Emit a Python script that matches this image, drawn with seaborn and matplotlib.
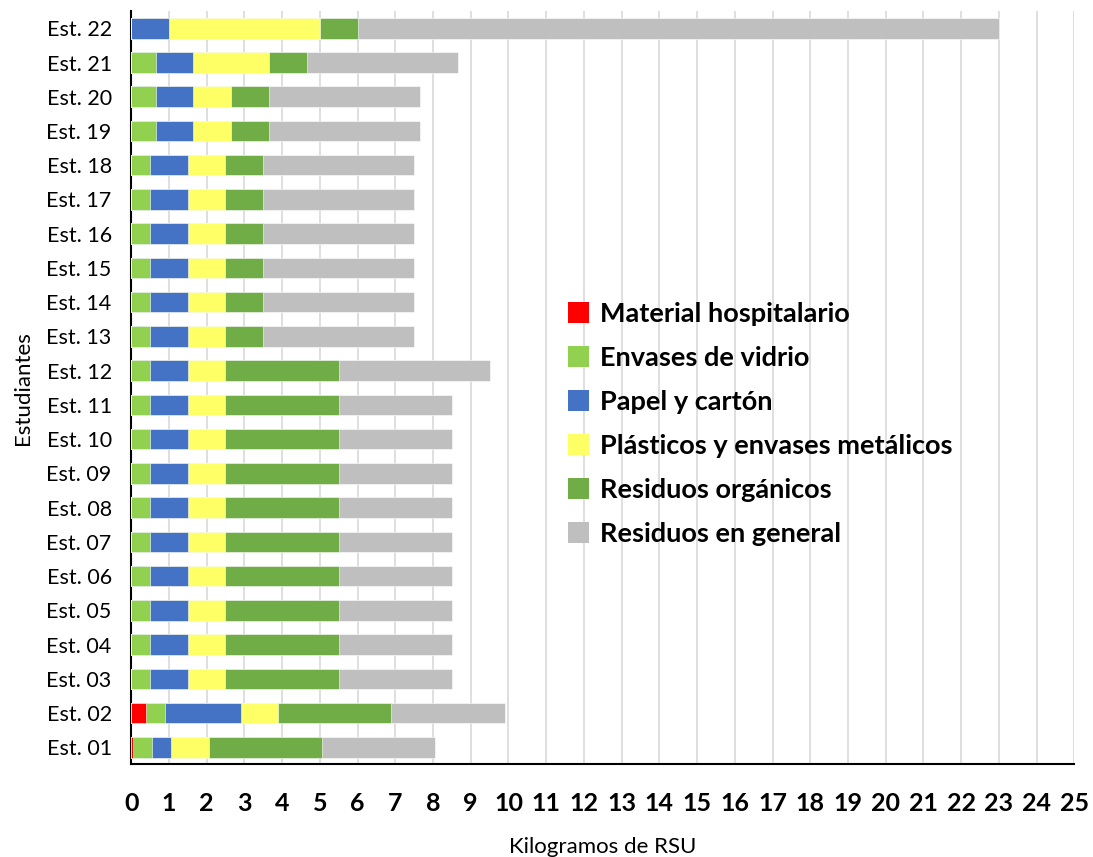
import numpy as np
import pandas as pd
import matplotlib
matplotlib.use("Agg")
import matplotlib.pyplot as plt
import seaborn as sns
from matplotlib.patches import Patch

# -------------------------------
# Data (kg per student, per category)
# -------------------------------
students = ["Est. %02d" % i for i in range(1, 23)]

hospitalario = [0.05, 0.4] + [0] * 20
vidrio = [0.5, 0.5] + [0.5] * 10 + [0.5] * 6 + [0.65, 0.65, 0.65, 0]
papel = [0.5, 2] + [1] * 10 + [1] * 6 + [1, 1, 1, 1]
plasticos = [1, 1] + [1] * 10 + [1] * 6 + [1, 1, 2, 4]
organicos = [3, 3] + [3] * 10 + [1] * 6 + [1, 1, 1, 1]
general = [3, 3] + [3] * 9 + [4] + [4] * 6 + [4, 4, 4, 17]

categories = ["Material hospitalario", "Envases de vidrio", "Papel y cartón",
              "Plásticos y envases metálicos", "Residuos orgánicos", "Residuos en general"]
colors = ["#ff0000", "#92d050", "#4472c4", "#ffff66", "#70ad47", "#bfbfbf"]

df = pd.DataFrame({
    "Estudiante": students,
    categories[0]: hospitalario,
    categories[1]: vidrio,
    categories[2]: papel,
    categories[3]: plasticos,
    categories[4]: organicos,
    categories[5]: general,
})

# cumulative sums for the stacked look
cum = df[categories].cumsum(axis=1)
cum["Estudiante"] = df["Estudiante"]
order = students[::-1]

sns.set_style("white")
plt.rcParams["font.family"] = ["Lato", "DejaVu Sans"]
plt.rcParams["text.color"] = "black"
plt.rcParams["axes.labelcolor"] = "black"
plt.rcParams["xtick.color"] = "black"
plt.rcParams["ytick.color"] = "black"

fig, ax = plt.subplots(figsize=(10.93, 8.57), dpi=100)
fig.subplots_adjust(left=0.12, right=0.983, top=0.987, bottom=0.108)

# draw from the longest cumulative bar down to the shortest
for cat, col in list(zip(categories, colors))[::-1]:
    sns.barplot(data=cum, x=cat, y="Estudiante", order=order, color=col,
                saturation=1, width=0.6, edgecolor="white", linewidth=0.4,
                ax=ax, zorder=3)

ax.set_xlim(0, 25)
ax.set_xticks(range(0, 26))
ax.grid(axis="x", color="#d9d9d9", linewidth=1.2, zorder=0)
ax.set_axisbelow(True)
ax.tick_params(axis="x", length=6, width=1, direction="out", pad=14,
               labelsize=18)
for lbl in ax.get_xticklabels():
    lbl.set_fontweight("bold")

ax.set_ylim(len(students) - 0.5, -0.5)
ax.tick_params(axis="y", length=0, labelsize=15.5, pad=14)
ax.set_yticks(np.arange(-0.5, len(students), 1), minor=True)
ax.tick_params(axis="y", which="minor", length=6, width=1.5, direction="out")

for side in ["top", "right"]:
    ax.spines[side].set_visible(False)
ax.spines["left"].set_color("black")
ax.spines["left"].set_linewidth(1.5)
ax.spines["bottom"].set_color("black")
ax.spines["bottom"].set_linewidth(1.5)

ax.set_xlabel("Kilogramos de RSU", fontsize=16, labelpad=16)
ax.set_ylabel("Estudiantes", fontsize=16, labelpad=10)

handles = [Patch(facecolor=c, edgecolor="none") for c in colors]
ax.legend(handles, categories, loc="center left", bbox_to_anchor=(0.437, 0.452),
          frameon=False, prop={"size": 19.5, "weight": "bold"},
          handlelength=0.8, handleheight=0.8, handletextpad=0.4, labelspacing=0.74)

plt.savefig("out.png", dpi=100)
